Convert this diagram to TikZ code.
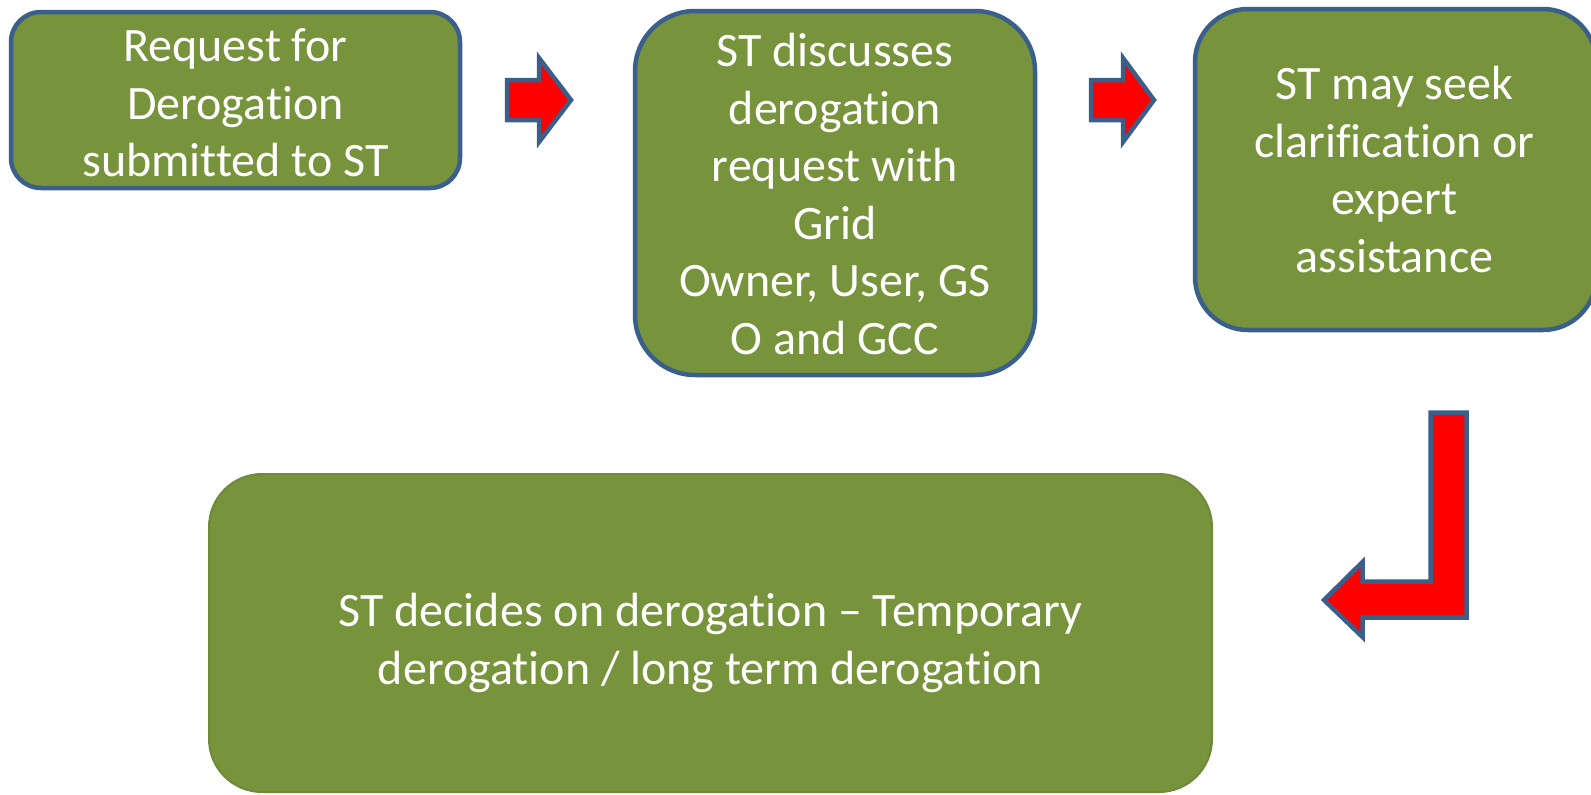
\documentclass[tikz,border=0pt]{standalone}
\usepackage{fontspec}
\setmainfont{Carlito}[Ligatures={NoCommon}]
\definecolor{boxgreen}{HTML}{77933C}
\definecolor{boxblue}{HTML}{3A5F8B}
\definecolor{darkgreen}{HTML}{6E8A3A}
\definecolor{arrowred}{HTML}{FF0000}
\tikzset{
  stepbox/.style={draw=boxblue, fill=boxgreen, line width=4.5pt, inner sep=0pt},
  finalbox/.style={draw=darkgreen, fill=boxgreen, line width=2pt, inner sep=0pt},
  boxtext/.style={text=white, align=center, inner sep=0pt, font=\fontsize{48}{57.5}\selectfont},
  blockarrow/.style={draw=boxblue, fill=arrowred, line width=4.5pt, line join=miter}
}
\begin{document}
\begin{tikzpicture}[x=1pt,y=-1pt]
\useasboundingbox (0,0) rectangle (1591,795);
\begin{scope}
\clip (0,0) rectangle (1591,795);
\node[stepbox, minimum width=449pt, minimum height=176pt, rounded corners=30pt] (b1) at (235.5,100) {};
\node[stepbox, minimum width=400pt, minimum height=364pt, rounded corners=60pt] (b2) at (835,193) {};
\node[stepbox, minimum width=401pt, minimum height=321pt, rounded corners=53pt] (b3) at (1395.5,169.5) {};
\node[finalbox, minimum width=1003pt, minimum height=318pt, rounded corners=53pt] (b4) at (710.5,633) {};
\end{scope}
\node[boxtext] (t1) at (235.5,103) {Request for\\Derogation\\submitted to ST};
\node[boxtext] (t2) at (835,194) {ST discusses\\derogation\\request with\\Grid\\Owner, User, GS\\O and GCC};
\node[boxtext] (t3) at (1394.5,169.5) {ST may seek\\clarification or\\expert\\assistance};
\node[boxtext] (t4) at (710.5,643) {ST decides on derogation -- Temporary\\derogation / long term derogation};
% block arrows
\draw[blockarrow] (507,80) -- (539,80) -- (539,58) -- (571,100) -- (539,142) -- (539,120) -- (507,120) -- cycle;
\draw[blockarrow] (1091,80) -- (1123,80) -- (1123,58) -- (1154,100) -- (1123,142) -- (1123,120) -- (1091,120) -- cycle;
\draw[blockarrow] (1430.5,412.5) -- (1466.5,412.5) -- (1466.5,617.5) -- (1362.5,617.5) -- (1362.5,637) -- (1324,600) -- (1362.5,562) -- (1362.5,581.5) -- (1430.5,581.5) -- cycle;
\end{tikzpicture}
\end{document}
